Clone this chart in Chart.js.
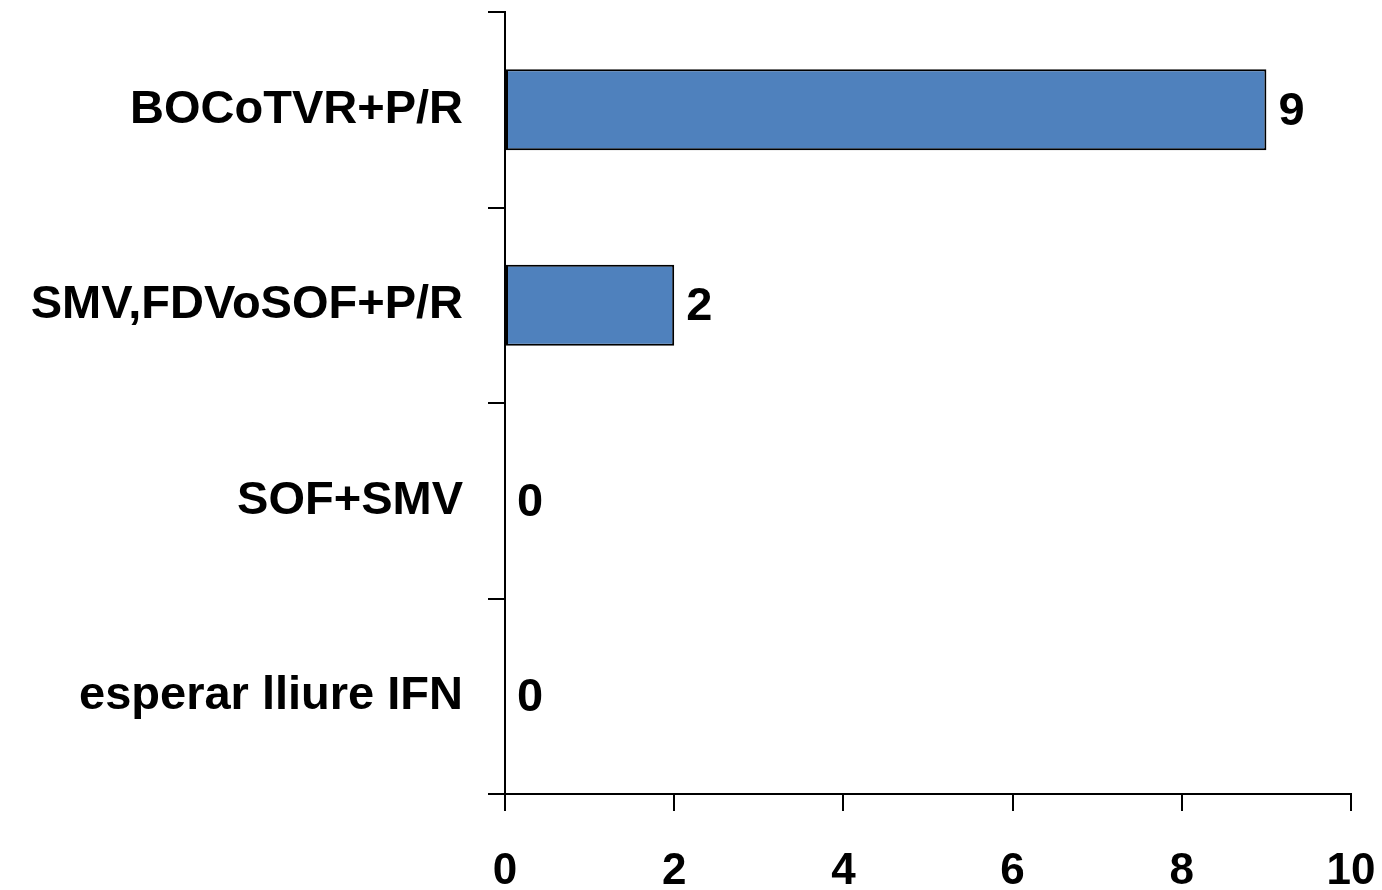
<!DOCTYPE html>
<html>
<head>
<meta charset="utf-8">
<script src="https://cdn.jsdelivr.net/npm/chart.js@4"></script>
<style>
html,body{margin:0;padding:0;background:#fff;}
#wrap{width:1382px;height:890px;}
</style>
</head>
<body>
<div id="wrap"><canvas id="c" width="1382" height="890"></canvas></div>
<script>
const categories = ["BOCoTVR+P/R", "SMV,FDVoSOF+P/R", "SOF+SMV", "esperar lliure IFN"];
const values = [9, 2, 0, 0];
const xMin = 0, xMax = 10, xStep = 2;

const FONT = "'Liberation Sans', Arial, sans-serif";

const valueLabels = {
  id: 'valueLabels',
  afterDatasetsDraw(chart) {
    const ctx = chart.ctx;
    const meta = chart.getDatasetMeta(0);
    ctx.save();
    ctx.font = "bold 47px " + FONT;
    ctx.fillStyle = "#000";
    ctx.textAlign = "left";
    ctx.textBaseline = "middle";
    meta.data.forEach((bar, i) => {
      ctx.fillText(String(values[i]), bar.x + 12, bar.y + 2);
    });
    ctx.restore();
  }
};

new Chart(document.getElementById('c'), {
  type: 'bar',
  data: {
    labels: categories,
    datasets: [{
      data: values,
      backgroundColor: '#4F81BD',
      borderColor: '#000',
      borderWidth: 2,
      borderSkipped: false,
      categoryPercentage: 1,
      barPercentage: 0.414
    }]
  },
  options: {
    indexAxis: 'y',
    responsive: false,
    animation: false,
    devicePixelRatio: 1,
    layout: { padding: { top: 12, right: 31, left: 0, bottom: 0 } },
    plugins: { legend: { display: false }, tooltip: { enabled: false } },
    scales: {
      y: {
        offset: true,
        afterFit(scale) { scale.width = 505; scale.paddingTop = 0; scale.paddingBottom = 0; },
        grid: { offset: true, drawOnChartArea: false, tickLength: 17, color: '#000', lineWidth: 2 },
        border: { color: '#000', width: 2 },
        ticks: { color: '#000', padding: 25, font: { family: FONT, size: 47, weight: 'bold' } }
      },
      x: {
        min: xMin, max: xMax,
        afterFit(scale) { scale.height = 96; scale.paddingLeft = 0; scale.paddingRight = 0; },
        grid: { drawOnChartArea: false, tickLength: 17, color: '#000', lineWidth: 2 },
        border: { color: '#000', width: 2 },
        ticks: { stepSize: xStep, color: '#000', padding: 34, font: { family: FONT, size: 44, weight: 'bold' } }
      }
    }
  },
  plugins: [valueLabels]
});
</script>
</body>
</html>
